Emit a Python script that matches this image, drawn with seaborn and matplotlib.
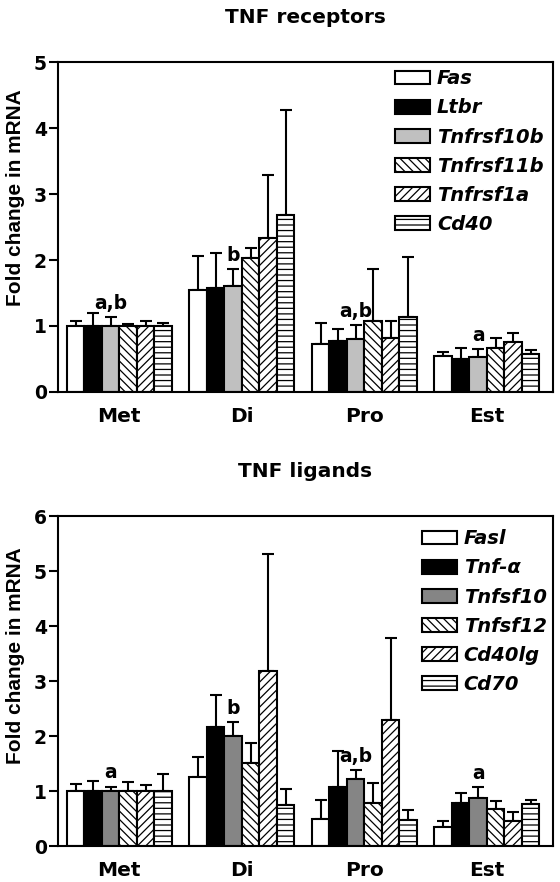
import numpy as np
import pandas as pd
import matplotlib
matplotlib.use('Agg')
import matplotlib.pyplot as plt
import seaborn as sns

phases = ['Met', 'Di', 'Pro', 'Est']

# TNF receptors: mean fold change and SEM per gene (Met, Di, Pro, Est)
receptor_genes = ['Fas', 'Ltbr', 'Tnfrsf10b', 'Tnfrsf11b', 'Tnfrsf1a', 'Cd40']
fas = [1.00, 1.55, 0.73, 0.55]
ltbr = [1.00, 1.58, 0.78, 0.50]
tnfrsf10b = [1.00, 1.61, 0.80, 0.53]
tnfrsf11b = [1.00, 2.03, 1.08, 0.67]
tnfrsf1a = [1.00, 2.34, 0.82, 0.75]
cd40 = [1.00, 2.68, 1.14, 0.57]
fas_sem = [0.08, 0.51, 0.32, 0.05]
ltbr_sem = [0.20, 0.52, 0.18, 0.16]
tnfrsf10b_sem = [0.14, 0.25, 0.22, 0.12]
tnfrsf11b_sem = [0.03, 0.15, 0.79, 0.15]
tnfrsf1a_sem = [0.08, 0.95, 0.26, 0.15]
cd40_sem = [0.05, 1.60, 0.90, 0.07]
receptor_letters = ['a,b', 'b', 'a,b', 'a']

# TNF ligands
ligand_genes = ['Fasl', 'Tnf-α', 'Tnfsf10', 'Tnfsf12', 'Cd40lg', 'Cd70']
fasl = [1.00, 1.25, 0.49, 0.35]
tnfa = [1.00, 2.16, 1.07, 0.78]
tnfsf10 = [1.00, 2.01, 1.22, 0.87]
tnfsf12 = [1.00, 1.51, 0.78, 0.68]
cd40lg = [1.00, 3.18, 2.30, 0.46]
cd70 = [1.00, 0.75, 0.47, 0.77]
fasl_sem = [0.12, 0.37, 0.34, 0.11]
tnfa_sem = [0.19, 0.59, 0.66, 0.18]
tnfsf10_sem = [0.08, 0.24, 0.16, 0.20]
tnfsf12_sem = [0.16, 0.36, 0.36, 0.14]
cd40lg_sem = [0.11, 2.14, 1.48, 0.16]
cd70_sem = [0.31, 0.29, 0.19, 0.07]
ligand_letters = ['a', 'b', 'a,b', 'a']


def long_frame(genes, means, sems):
    rows = []
    for g, m, s in zip(genes, means, sems):
        for p, mv, sv in zip(phases, m, s):
            rows.append({'phase': p, 'gene': g, 'fold': mv, 'err': sv})
    return pd.DataFrame(rows)


def draw_panel(ax, df, genes, gray, letters, title, ymax, legend_xy, label_y):
    sns.barplot(data=df, x='phase', y='fold', hue='gene', order=phases,
                hue_order=genes, errorbar=None, width=0.857, gap=0,
                palette=['white'] * len(genes), edgecolor='black',
                linewidth=1.5, ax=ax, legend=False)

    faces = ['white', 'black', gray, 'white', 'white', 'white']
    hatches = [None, None, None, '\\\\\\\\', '////', '---']
    bar_conts = list(ax.containers)
    for i, cont in enumerate(bar_conts):
        sub = df[df.gene == genes[i]].set_index('phase').loc[phases]
        xs = []
        for bar in cont.patches:
            bar.set_facecolor(faces[i])
            bar.set_hatch(hatches[i])
            bar.set_edgecolor('black')
            xs.append(bar.get_x() + bar.get_width() / 2)
        xs = np.array(xs)
        # upper-only error bars
        ax.errorbar(xs, sub['fold'].values,
                    yerr=[np.zeros(len(xs)), sub['err'].values],
                    fmt='none', ecolor='black', elinewidth=1.5,
                    capsize=4, capthick=1.5, zorder=0.5)
        if i == 2:
            tops = sub['fold'].values + sub['err'].values
            for x, t, lab in zip(xs, tops, letters):
                ax.annotate(lab, (x, t), xytext=(0, 3),
                            textcoords='offset points', ha='center',
                            va='bottom', fontsize=13.5, fontweight='bold')

    ax.set_xlim(-0.5, 3.54)
    ax.set_ylim(0, ymax)
    ax.set_yticks(range(0, ymax + 1))
    ax.set_xlabel('')
    ax.set_ylabel('Fold change in mRNA', fontsize=15, fontweight='bold',
                  family=['Liberation Sans', 'DejaVu Sans'])
    ax.yaxis.set_label_coords(-0.067, label_y)
    ax.set_title(title, fontsize=14.5, fontweight='bold', pad=28)
    ax.tick_params(axis='y', left=True, length=6.5, width=1.5, pad=1.5,
                   labelsize=13.5)
    ax.tick_params(axis='x', length=0, pad=11, labelsize=14.5)
    for lab in ax.get_xticklabels() + ax.get_yticklabels():
        lab.set_fontweight('bold')
    for sp in ax.spines.values():
        sp.set_visible(True)
        sp.set_linewidth(1.5)
        sp.set_color('black')

    leg = ax.legend(handles=[c.patches[0] for c in bar_conts],
                    labels=genes, loc='upper left',
                    bbox_to_anchor=legend_xy, frameon=False, borderpad=0,
                    borderaxespad=0, handlelength=1.8, handleheight=0.72,
                    handletextpad=0.35, labelspacing=0.52,
                    prop={'size': 14, 'weight': 'bold', 'style': 'italic'})
    return leg


sns.set_style('white')
plt.rcParams['font.family'] = ['DejaVu Sans']
plt.rcParams['text.color'] = 'black'
plt.rcParams['axes.labelcolor'] = 'black'
plt.rcParams['xtick.color'] = 'black'
plt.rcParams['ytick.color'] = 'black'
plt.rcParams['hatch.linewidth'] = 0.9

fig = plt.figure(figsize=(5.6, 8.82), dpi=100)
ax1 = fig.add_axes([0.1036, 0.5556, 0.884, 0.374])
ax2 = fig.add_axes([0.1036, 0.0408, 0.884, 0.374])

rec_df = long_frame(receptor_genes,
                    [fas, ltbr, tnfrsf10b, tnfrsf11b, tnfrsf1a, cd40],
                    [fas_sem, ltbr_sem, tnfrsf10b_sem, tnfrsf11b_sem,
                     tnfrsf1a_sem, cd40_sem])
lig_df = long_frame(ligand_genes,
                    [fasl, tnfa, tnfsf10, tnfsf12, cd40lg, cd70],
                    [fasl_sem, tnfa_sem, tnfsf10_sem, tnfsf12_sem,
                     cd40lg_sem, cd70_sem])

draw_panel(ax1, rec_df, receptor_genes, '#c0c0c0', receptor_letters,
           'TNF receptors', 5, (0.681, 0.978), 0.59)
draw_panel(ax2, lig_df, ligand_genes, '#858585', ligand_letters,
           'TNF ligands', 6, (0.735, 0.96), 0.576)

fig.savefig('out.png', dpi=100)
